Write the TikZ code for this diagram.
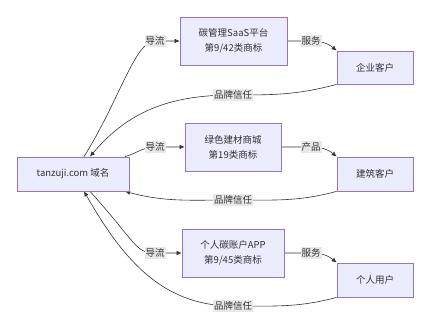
\documentclass[tikz,border=0pt]{standalone}
\usepackage{fontspec}
\setmainfont{Noto Sans CJK SC}
\usetikzlibrary{arrows.meta,backgrounds}
\definecolor{boxFill}{HTML}{ECECFF}
\definecolor{boxLine}{HTML}{9370DB}
\definecolor{inkGray}{HTML}{333333}
\definecolor{tagGray}{HTML}{E8E8E8}

\begin{document}
\begin{tikzpicture}[x=1pt,y=1pt,
    font=\fontsize{9.5}{15}\selectfont,text=inkGray,
    box/.style={draw=boxLine,fill=boxFill,line width=0.75pt,align=center,minimum height=34pt,inner sep=2pt},
    tag/.style={fill=tagGray,inner xsep=1pt,inner ysep=1.5pt},
    flow/.style={draw=inkGray,line width=0.6pt,-{Latex[length=5pt,width=4.5pt]}}]
  \useasboundingbox (0,0) rectangle (430,331);
  % boxes
  \node[box,minimum width=112pt] (dom) at (73,157) {tanzuji.com 域名};
  \node[box,minimum width=107pt,minimum height=48pt] (saas) at (233.5,290) {碳管理SaaS平台\\第9/42类商标};
  \node[box,minimum width=96pt,minimum height=48pt] (mall) at (233,184) {绿色建材商城\\第19类商标};
  \node[box,minimum width=102pt,minimum height=48pt] (app) at (233,78) {个人碳账户APP\\第9/45类商标};
  \node[box,minimum width=76pt,minimum height=33pt] (ent) at (375,263.5) {企业客户};
  \node[box,minimum width=76pt] (bld) at (375,157) {建筑客户};
  \node[box,minimum width=76pt] (usr) at (375,51) {个人用户};
  % edge labels
  \node[tag] (t1) at (155,290) {导流};
  \node[tag] (t2) at (311,290) {服务};
  \node[tag] (t3) at (233,236) {品牌信任};
  \node[tag] (t4) at (155,184) {导流};
  \node[tag] (t5) at (311,184) {产品};
  \node[tag] (t6) at (233,131) {品牌信任};
  \node[tag] (t7) at (155,78) {导流};
  \node[tag] (t8) at (311,78) {服务};
  \node[tag] (t9) at (233,25) {品牌信任};
  % edges
  \begin{scope}[on background layer]
    \draw[flow] ([xshift=11pt]dom.north) .. controls +(58:68) and +(-20,0) .. (t1.center) -- (saas.west);
    \draw[flow] (saas.east) -- (t2.center) to[out=0,in=140] (ent.north west);
    \draw[flow] (ent.south west) to[out=195,in=0] (t3.center) to[out=180,in=50] ([xshift=17pt]dom.north);
    \draw[flow] ([xshift=52pt]dom.north) to[out=15,in=180] (t4.center) -- (mall.west);
    \draw[flow] (mall.east) -- (t5.center) to[out=0,in=140] (bld.north west);
    \draw[flow] (bld.south west) to[out=195,in=0] (t6.center) to[out=180,in=-15] ([xshift=52pt]dom.south);
    \draw[flow] ([xshift=17pt]dom.south) .. controls +(-48:70) and +(-20,0) .. (t7.center) -- (app.west);
    \draw[flow] (app.east) -- (t8.center) to[out=0,in=140] (usr.north west);
    \draw[flow] (usr.south west) to[out=195,in=0] (t9.center) to[out=180,in=-60] ([xshift=11pt]dom.south);
  \end{scope}
\end{tikzpicture}
\end{document}
